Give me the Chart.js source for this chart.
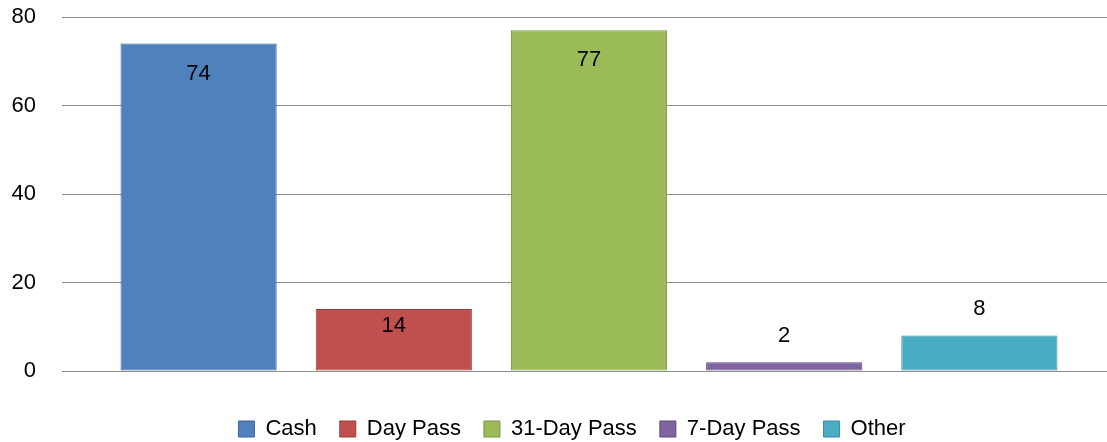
<!DOCTYPE html>
<html>
<head>
<meta charset="utf-8">
<script src="https://cdn.jsdelivr.net/npm/chart.js@4.4.0/dist/chart.umd.min.js"></script>
<style>
html,body{margin:0;padding:0;background:#fff;}
#wrap{width:1107px;height:442px;position:relative;}
</style>
</head>
<body>
<div id="wrap"><canvas id="c"></canvas></div>
<script>
const categories = ["Cash", "Day Pass", "31-Day Pass", "7-Day Pass", "Other"];
const values = [74, 14, 77, 2, 8];
const yTicks = [0, 20, 40, 60, 80];
const fillColors = ["#4F81BD", "#C0504D", "#9BBB59", "#8064A2", "#4BACC6"];
const borderColors = ["#3A6594", "#983C3A", "#789443", "#5E4A7A", "#3A8AA0"];

const FONT = '"Liberation Sans", Arial, sans-serif';
const gridColor = '#8C8C8C';
const yMin = yTicks[0], yMax = yTicks[yTicks.length - 1], yStep = yTicks[1] - yTicks[0];

const valueLabels = {
  id: 'valueLabels',
  afterDatasetsDraw(chart) {
    const ctx = chart.ctx;
    const meta = chart.getDatasetMeta(0);
    ctx.save();
    ctx.font = '22px ' + FONT;
    ctx.fillStyle = '#000';
    ctx.textAlign = 'center';
    ctx.textBaseline = 'middle';
    meta.data.forEach((bar, i) => {
      const v = chart.data.datasets[0].data[i];
      const h = bar.base - bar.y;
      const y = v >= 10 ? bar.y + Math.min(30, h * 0.28) : bar.y - 26.5;
      ctx.fillText(String(v), bar.x, y);
    });
    ctx.restore();
  }
};

const legendShift = {
  id: 'legendShift',
  afterLayout(chart) {
    const lg = chart.legend;
    lg.left += 18.5; lg.right += 18.5;
    lg.top += 8; lg.bottom += 8;
  }
};

new Chart(document.getElementById('c'), {
  type: 'bar',
  data: {
    labels: categories,
    datasets: [{
      data: values,
      backgroundColor: fillColors,
      borderColor: borderColors,
      borderWidth: 1,
      borderSkipped: false,
      categoryPercentage: 1.0,
      barPercentage: 0.8
    }]
  },
  options: {
    responsive: true,
    maintainAspectRatio: false,
    animation: false,
    layout: { padding: { left: 0, right: 0, top: 17, bottom: 0 } },
    scales: {
      x: {
        display: true,
        afterFit(scale) { scale.height = 16; },
        ticks: { display: false },
        grid: { display: false },
        border: { display: false }
      },
      y: {
        position: 'left',
        min: yMin, max: yMax,
        afterFit(scale) { scale.width = 101; scale.paddingTop = 0; scale.paddingBottom = 0; },
        ticks: { stepSize: yStep, color: '#000', font: { family: FONT, size: 22 }, padding: 26 },
        grid: { color: gridColor, lineWidth: 1, tickLength: 39, tickColor: gridColor },
        border: { display: false }
      },
      y2: {
        position: 'right',
        min: yMin, max: yMax,
        afterFit(scale) { scale.width = 30; scale.paddingTop = 0; scale.paddingBottom = 0; },
        ticks: { stepSize: yStep, display: false },
        grid: { drawOnChartArea: false, color: gridColor, tickLength: 30, tickColor: gridColor },
        border: { display: false }
      }
    },
    plugins: {
      tooltip: { enabled: false },
      legend: {
        display: true,
        position: 'bottom',
        labels: {
          boxWidth: 16,
          boxHeight: 16,
          padding: 23,
          color: '#000',
          font: { family: FONT, size: 22 },
          generateLabels(chart) {
            return categories.map((c, i) => ({
              text: c,
              fillStyle: fillColors[i],
              strokeStyle: borderColors[i],
              lineWidth: 1,
              hidden: false,
              index: i,
              fontColor: '#000'
            }));
          }
        }
      }
    }
  },
  plugins: [valueLabels, legendShift]
});
</script>
</body>
</html>
